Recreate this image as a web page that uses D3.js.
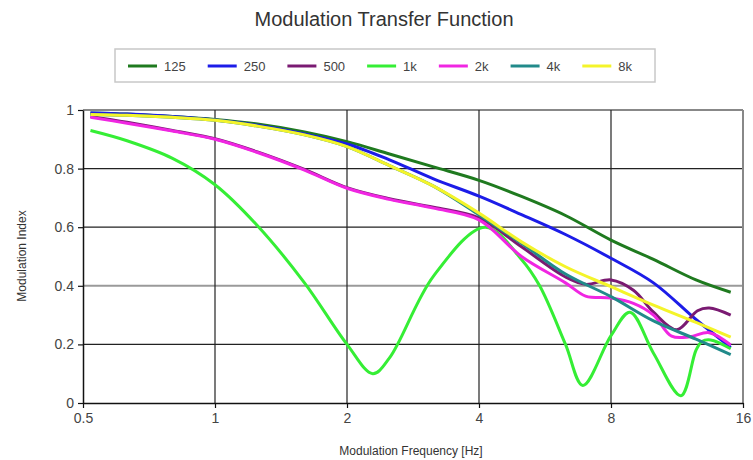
<!DOCTYPE html>
<html>
<head>
<meta charset="utf-8">
<script src="https://cdn.jsdelivr.net/npm/d3@7"></script>
<style>
  body { margin: 0; background: #fff; }
  text { font-family: Arial, "Liberation Sans", sans-serif; }
</style>
</head>
<body>
<div id="canvas"></div>
<script>
// tick labels
const xTicks = [0.5, 1, 2, 4, 8, 16];
const yTicks = [0, 0.2, 0.4, 0.6, 0.8, 1];

// series names and colours
const seriesNames = ["125", "250", "500", "1k", "2k", "4k", "8k"];
const seriesColors = ["#1f7a1f", "#1c1ce8", "#7a1a72", "#35ee35", "#f026e2", "#218a8a", "#f4f42a"];

// shared modulation frequencies (Hz)
const freqs = [0.52, 0.63, 0.8, 1, 1.25, 1.6, 2, 2.5, 3.15, 4, 5, 6.3, 8, 10, 12.5, 15];

const mti125 = [0.99, 0.986, 0.978, 0.968, 0.952, 0.925, 0.892, 0.85, 0.806, 0.76, 0.705, 0.64, 0.556, 0.49, 0.42, 0.378];
const mti250 = [0.99, 0.986, 0.978, 0.966, 0.948, 0.918, 0.884, 0.83, 0.765, 0.706, 0.643, 0.575, 0.494, 0.41, 0.285, 0.19];
const mti4k = [0.985, 0.982, 0.975, 0.965, 0.945, 0.915, 0.875, 0.81, 0.74, 0.642, 0.545, 0.44, 0.363, 0.28, 0.218, 0.165];
const mti8k = [0.985, 0.982, 0.975, 0.965, 0.945, 0.915, 0.875, 0.81, 0.74, 0.648, 0.55, 0.465, 0.397, 0.334, 0.275, 0.225];

const freqs500 = [0.52, 0.63, 0.8, 1, 1.25, 1.6, 2, 2.5, 3.15, 4, 5, 6.3, 7, 8, 9, 10, 11.3, 12.6, 13.4, 15];
const mti500 = [0.978, 0.958, 0.93, 0.902, 0.857, 0.797, 0.735, 0.697, 0.668, 0.632, 0.533, 0.43, 0.405, 0.42, 0.385, 0.31, 0.25, 0.315, 0.324, 0.30];

const freqs1k = [0.52, 0.63, 0.8, 1, 1.25, 1.6, 2, 2.29, 2.5, 3.15, 4.13, 5, 5.5, 6.3, 6.9, 8, 8.84, 10, 11.55, 12.5, 12.9, 13.5, 15];
const mti1k = [0.93, 0.895, 0.835, 0.745, 0.605, 0.41, 0.2, 0.1, 0.154, 0.433, 0.6, 0.49, 0.4, 0.2, 0.06, 0.23, 0.31, 0.17, 0.025, 0.18, 0.21, 0.215, 0.185];

const freqs2k = [0.52, 0.63, 0.8, 1, 1.25, 1.6, 2, 2.5, 3.15, 4, 5, 6.3, 7, 8, 9, 10, 11, 12.1, 13.4, 15];
const mti2k = [0.975, 0.955, 0.928, 0.9, 0.855, 0.795, 0.733, 0.695, 0.665, 0.625, 0.5, 0.41, 0.365, 0.358, 0.34, 0.3, 0.228, 0.226, 0.24, 0.198];

const seriesFreqs = [freqs, freqs, freqs500, freqs1k, freqs2k, freqs, freqs];
const seriesValues = [mti125, mti250, mti500, mti1k, mti2k, mti4k, mti8k];

const data = seriesNames.map((name, i) => ({
  name: name,
  color: seriesColors[i],
  points: seriesFreqs[i].map((f, j) => ({ f: f, v: seriesValues[i][j] }))
}));

const width = 753;
const height = 460;
const margin = { top: 110, left: 83, bottom: 57, right: 10 };
const iwidth = width - margin.left - margin.right;
const iheight = height - margin.top - margin.bottom;

const svg = d3.select("#canvas").append("svg")
  .attr("width", width)
  .attr("height", height);

const x = d3.scaleLog().base(2).domain([0.5, 16]).range([0, iwidth]);
const y = d3.scaleLinear().domain([0, 1]).range([iheight, 0]);

// title
svg.append("text")
  .attr("x", 384)
  .attr("y", 26)
  .attr("text-anchor", "middle")
  .style("font-size", "20px")
  .style("fill", "#333")
  .text("Modulation Transfer Function");

const g = svg.append("g")
  .attr("transform", `translate(${margin.left},${margin.top})`);

// grid
g.selectAll(".hgrid").data(yTicks.filter(d => d > 0)).enter()
  .append("line")
  .attr("x1", 0).attr("x2", iwidth)
  .attr("y1", d => y(d)).attr("y2", d => y(d))
  .style("stroke", d => d === 1 ? "#888" : d === 0.4 ? "#9a9a9a" : "#222")
  .style("stroke-width", d => (d === 1 || d === 0.4) ? 2 : 1.2);

g.selectAll(".vgrid").data(xTicks.filter(d => d > 0.5)).enter()
  .append("line")
  .attr("x1", d => x(d)).attr("x2", d => x(d))
  .attr("y1", 0).attr("y2", iheight)
  .style("stroke", d => d === 16 ? "#888" : "#222")
  .style("stroke-width", d => d === 16 ? 2 : 1.2);

// axes
const xAxis = g.append("g")
  .attr("transform", `translate(0,${iheight})`)
  .call(d3.axisBottom(x).tickValues(xTicks).tickFormat(d3.format("")).tickSize(5).tickSizeOuter(0));
const yAxis = g.append("g")
  .call(d3.axisLeft(y).tickValues(yTicks).tickFormat(d3.format("")).tickSize(5).tickSizeOuter(0));

[xAxis, yAxis].forEach(a => {
  a.select(".domain").style("stroke", "#111").style("stroke-width", 1.5);
  a.selectAll(".tick line").style("stroke", "#111").style("stroke-width", 1.2);
  a.selectAll(".tick text")
    .style("font-size", "14px")
    .style("fill", "#444")
    .style("font-family", "Arial, 'Liberation Sans', sans-serif");
});
xAxis.selectAll(".tick text").attr("y", 10);
yAxis.selectAll(".tick text").attr("x", -9);

// lines
const line = d3.line()
  .x(d => x(d.f))
  .y(d => y(d.v))
  .curve(d3.curveCatmullRom.alpha(0.5));

g.selectAll(".series").data(data).enter()
  .append("path")
  .attr("class", "series")
  .attr("d", d => line(d.points))
  .style("fill", "none")
  .style("stroke", d => d.color)
  .style("stroke-width", 3)
  .style("stroke-linejoin", "round");

// axis titles
svg.append("text")
  .attr("transform", "translate(26,256) rotate(-90)")
  .attr("text-anchor", "middle")
  .style("font-size", "12px")
  .style("fill", "#333")
  .text("Modulation Index");

svg.append("text")
  .attr("x", 411)
  .attr("y", 455)
  .attr("text-anchor", "middle")
  .style("font-size", "12px")
  .style("fill", "#333")
  .text("Modulation Frequency [Hz]");

// legend
const legend = svg.append("g");
legend.append("rect")
  .attr("x", 115).attr("y", 49)
  .attr("width", 540).attr("height", 33)
  .style("fill", "#fff")
  .style("stroke", "#c8c8c8")
  .style("stroke-width", 1.5);

let lx = 128;
data.forEach(d => {
  legend.append("line")
    .attr("x1", lx).attr("x2", lx + 29)
    .attr("y1", 66).attr("y2", 66)
    .style("stroke", d.color)
    .style("stroke-width", 3);
  const t = legend.append("text")
    .attr("x", lx + 36)
    .attr("y", 71)
    .style("font-size", "13px")
    .style("fill", "#444")
    .text(d.name);
  lx += 36 + t.node().getComputedTextLength() + 22;
});
</script>
</body>
</html>
